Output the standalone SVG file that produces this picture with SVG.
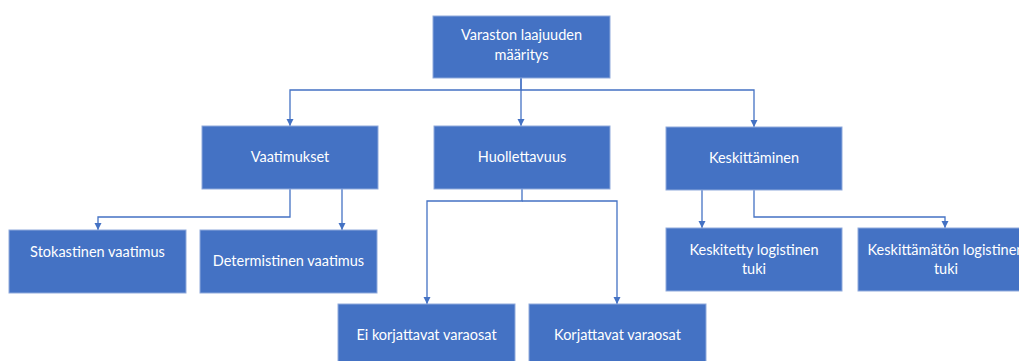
<svg xmlns="http://www.w3.org/2000/svg" width="1019" height="361" viewBox="0 0 1019 361">
<style>
.box{fill:#4472C4;stroke:#8FAADC;stroke-width:1}
.t{fill:#FFFFFF;font-family:Lato,"Liberation Sans",sans-serif;font-size:14.5px;text-anchor:middle}
.c{fill:none;stroke:#4472C4;stroke-width:1.3}
</style>
<defs>
<marker id="ah" markerWidth="8" markerHeight="8" refX="4" refY="7" orient="auto" markerUnits="userSpaceOnUse" viewBox="0 0 8 8">
<path d="M0,1 L8,1 L4,7 Z" fill="#4472C4" transform="rotate(-90 4 4)"/>
</marker>
<marker id="a" markerWidth="8" markerHeight="7" refX="4" refY="7" orient="0" markerUnits="userSpaceOnUse" viewBox="0 0 8 7">
<path d="M0.5,0 L7.5,0 L4,7 Z" fill="#4472C4"/>
</marker>
</defs>
<rect width="1019" height="361" fill="#FFFFFF"/>
<g id="connectors">
<path class="c" d="M521,78 V90 H290 V126" marker-end="url(#a)"/>
<path class="c" d="M521,78 V126" marker-end="url(#a)"/>
<path class="c" d="M521,90 H754 V127" marker-end="url(#a)"/>
<path class="c" d="M290,189 V217 H98 V230" marker-end="url(#a)"/>
<path class="c" d="M342,189 V230" marker-end="url(#a)"/>
<path class="c" d="M522,189 V201 H427 V304" marker-end="url(#a)"/>
<path class="c" d="M522,201 H617 V304" marker-end="url(#a)"/>
<path class="c" d="M702,190 V228" marker-end="url(#a)"/>
<path class="c" d="M754,190 V217 H945 V228" marker-end="url(#a)"/>
</g>
<g id="n-root"><rect class="box" x="433" y="16" width="177" height="62"/><text class="t" x="521.5" y="40">Varaston laajuuden</text><text class="t" x="521.5" y="60">määritys</text></g>
<g id="n-vaatimukset"><rect class="box" x="202" y="126" width="176" height="63"/><text class="t" x="290" y="162">Vaatimukset</text></g>
<g id="n-huollettavuus"><rect class="box" x="434" y="126" width="176" height="63"/><text class="t" x="522" y="162">Huollettavuus</text></g>
<g id="n-keskittaminen"><rect class="box" x="666" y="127" width="176" height="63"/><text class="t" x="754" y="163">Keskittäminen</text></g>
<g id="n-stokastinen"><rect class="box" x="9" y="230" width="177" height="63"/><text class="t" x="97.5" y="257">Stokastinen vaatimus</text></g>
<g id="n-determistinen"><rect class="box" x="200" y="230" width="177" height="63"/><text class="t" x="288.5" y="266">Determistinen vaatimus</text></g>
<g id="n-ei-korjattavat"><rect class="box" x="338" y="304" width="177" height="63"/><text class="t" x="426.5" y="340">Ei korjattavat varaosat</text></g>
<g id="n-korjattavat"><rect class="box" x="529" y="304" width="177" height="63"/><text class="t" x="617.5" y="340">Korjattavat varaosat</text></g>
<g id="n-keskitetty"><rect class="box" x="666" y="228" width="176" height="63"/><text class="t" x="754" y="255">Keskitetty logistinen</text><text class="t" x="754" y="274">tuki</text></g>
<g id="n-keskittamaton"><rect class="box" x="858" y="228" width="176" height="63"/><text class="t" x="946" y="255">Keskittämätön logistinen</text><text class="t" x="946" y="274">tuki</text></g>
</svg>
